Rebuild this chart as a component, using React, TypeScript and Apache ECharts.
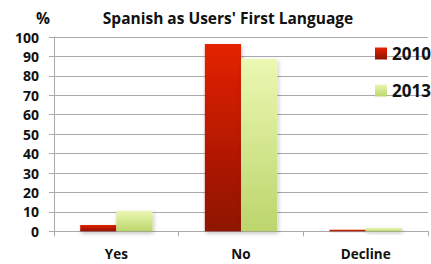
import React, { useEffect, useRef } from "react";
import * as echarts from "echarts";

const categories = ["Yes", "No", "Decline"];
const series2010 = [3.3, 96.4, 0.8];
const series2013 = [10.4, 88.7, 1.7];
const yTicks = [0, 10, 20, 30, 40, 50, 60, 70, 80, 90, 100];

const FONT = "Open Sans";

export default function App() {
  const ref = useRef<HTMLDivElement>(null);
  useEffect(() => {
    if (!ref.current) return;
    const chart = echarts.init(ref.current, null, { renderer: "svg" });
    const shadow = {
      shadowColor: "rgba(0,0,0,0.25)",
      shadowBlur: 4,
      shadowOffsetX: 1,
      shadowOffsetY: 2,
    };
    const legendText = { fontFamily: FONT, fontWeight: "bold", fontSize: 17, color: "#111" };
    chart.setOption({
      animation: false,
      backgroundColor: "#ffffff",
      title: [
        {
          text: "Spanish as Users' First Language",
          left: 223,
          textAlign: "center",
          top: 5,
          textStyle: { fontFamily: FONT, fontWeight: "bold", fontSize: 15.5, color: "#111" },
        },
        {
          text: "%",
          left: 38,
          textAlign: "center",
          top: 5,
          textStyle: { fontFamily: FONT, fontWeight: "bold", fontSize: 15.5, color: "#111" },
        },
      ],
      legend: [
        {
          orient: "vertical",
          left: 370,
          top: 40,
          itemWidth: 12,
          itemHeight: 12,
          icon: "rect",
          textStyle: legendText,
          data: ["2010"],
        },
        {
          orient: "vertical",
          left: 370,
          top: 77,
          itemWidth: 12,
          itemHeight: 12,
          icon: "rect",
          textStyle: legendText,
          data: ["2013"],
        },
      ],
      grid: { left: 54, right: 3, top: 37, bottom: 32.7, containLabel: false },
      xAxis: {
        type: "category",
        data: categories,
        axisLine: { lineStyle: { color: "#aaa" } },
        axisTick: { show: true, length: 5, lineStyle: { color: "#aaa" } },
        axisLabel: {
          fontFamily: FONT,
          fontWeight: "bold",
          fontSize: 13.5,
          color: "#111",
          margin: 16,
        },
      },
      yAxis: {
        type: "value",
        min: 0,
        max: 100,
        interval: 10,
        axisLine: { show: true, lineStyle: { color: "#aaa" } },
        axisTick: { show: true, length: 5, lineStyle: { color: "#aaa" } },
        splitLine: { lineStyle: { color: "#aaa", width: 1 } },
        axisLabel: {
          fontFamily: FONT,
          fontWeight: "bold",
          fontSize: 14,
          color: "#111",
          margin: 15,
          formatter: (v: number) => (yTicks.includes(v) ? String(v) : ""),
        },
      },
      series: [
        {
          name: "2010",
          type: "bar",
          data: series2010,
          barWidth: "29%",
          barGap: "0%",
          itemStyle: {
            color: new echarts.graphic.LinearGradient(0, 0, 0, 1, [
              { offset: 0, color: "#e42200" },
              { offset: 1, color: "#8e1200" },
            ]),
            ...shadow,
          },
        },
        {
          name: "2013",
          type: "bar",
          data: series2013,
          barWidth: "29%",
          barGap: "0%",
          itemStyle: {
            color: new echarts.graphic.LinearGradient(0, 0, 0, 1, [
              { offset: 0, color: "#ebf8b2" },
              { offset: 1, color: "#bcd56c" },
            ]),
            ...shadow,
          },
        },
      ],
    });
    return () => chart.dispose();
  }, []);
  return <div ref={ref} style={{ width: 431, height: 264, position: "absolute", left: 0, top: 0 }} />;
}
